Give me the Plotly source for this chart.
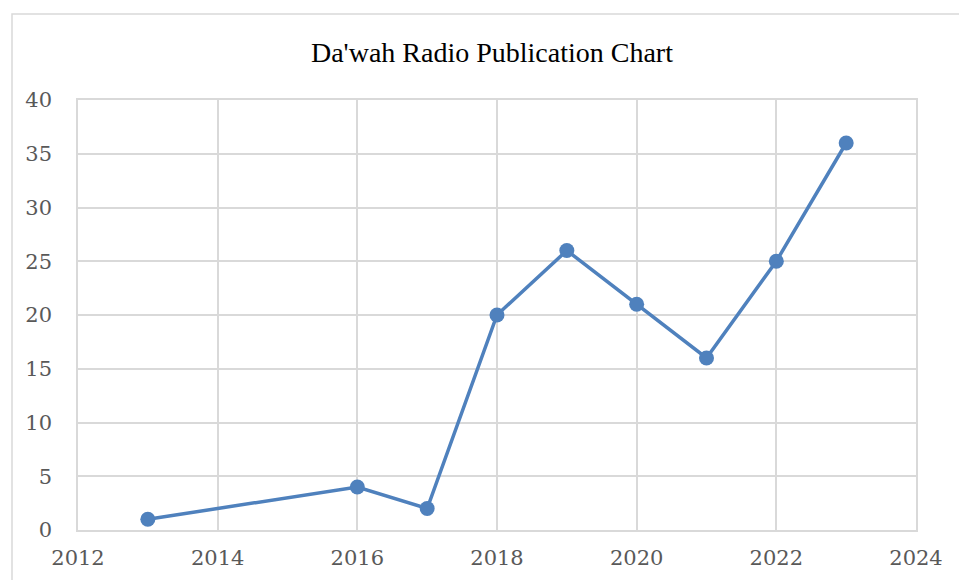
import plotly.graph_objects as go

years = [2013, 2016, 2017, 2018, 2019, 2020, 2021, 2022, 2023]
publications = [1, 4, 2, 20, 26, 21, 16, 25, 36]

grid = '#d9d9d9'
tick_font = dict(family='DejaVu Serif', size=21, color='#595959')

fig = go.Figure()
fig.add_trace(go.Scatter(
    x=years, y=publications, mode='lines+markers',
    line=dict(color='#4f81bd', width=3.5),
    marker=dict(color='#4f81bd', size=15),
    showlegend=False,
))

fig.update_layout(
    width=959, height=580,
    margin=dict(l=78, r=43, t=100, b=50),
    paper_bgcolor='white', plot_bgcolor='white',
    title=dict(text="Da'wah Radio Publication Chart",
               font=dict(family='Liberation Serif', size=28, color='black'),
               xref='paper', x=0.494, xanchor='center',
               yref='container', y=1 - 52 / 580, yanchor='middle'),
    xaxis=dict(range=[2012, 2024], dtick=2, tick0=2012, automargin=False,
               showgrid=True, gridcolor=grid, gridwidth=1.5,
               showline=True, linecolor=grid, linewidth=1.5, mirror=True,
               zeroline=False, tickfont=tick_font, ticks='', ticklabelstandoff=8),
    yaxis=dict(range=[0, 40], dtick=5, automargin=False,
               showgrid=True, gridcolor=grid, gridwidth=1.5,
               showline=True, linecolor=grid, linewidth=1.5, mirror=True,
               zeroline=False, tickfont=tick_font, ticks='', ticklabelstandoff=20),
    shapes=[dict(type='rect', xref='paper', yref='paper',
                 x0=(12 - 78) / 838, x1=2, y0=-1, y1=(530 - 14) / 430,
                 line=dict(color=grid, width=1.5), layer='below')],
)

# drop the page's default body margin so the figure sits at the window's corner
fig.write_html("out.html", config={'displayModeBar': False},
               post_script="document.body.style.margin='0';")
